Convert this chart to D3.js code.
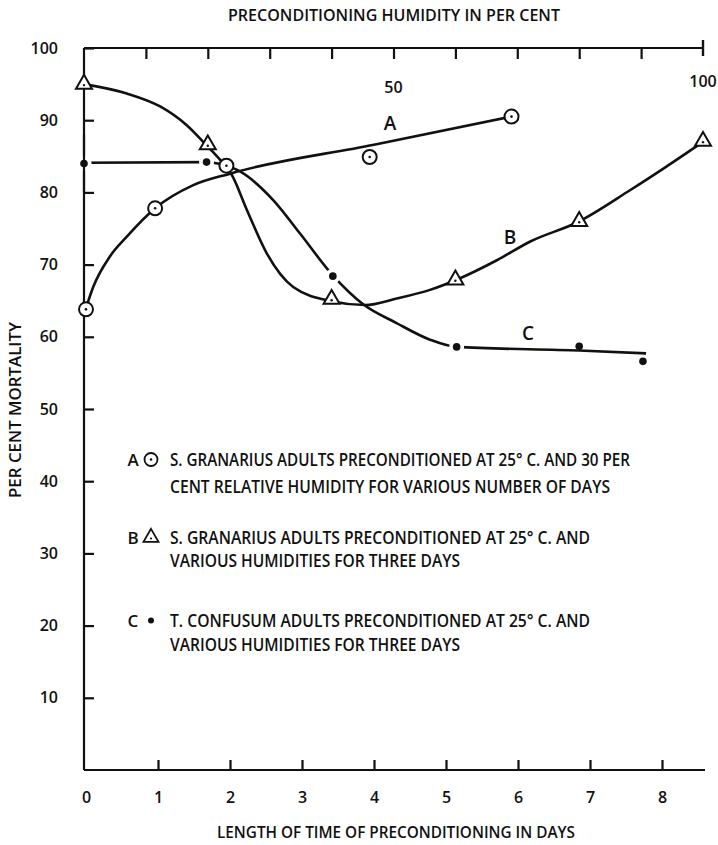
<!DOCTYPE html>
<html>
<head>
<meta charset="utf-8">
<script src="https://cdn.jsdelivr.net/npm/d3@7"></script>
<style>
  body { margin: 0; background: #fff; }
  svg text { font-family: "Open Sans", "DejaVu Sans", sans-serif; fill: #111; font-weight: 600; }
</style>
</head>
<body>
<svg id="chart" width="718" height="845"></svg>
<script>
// ---- tick values ----
const dayTicks = [0, 1, 2, 3, 4, 5, 6, 7, 8];
const humidityTicks = [10, 20, 30, 40, 50, 60, 70, 80, 90];
const humidityLabels = [50, 100];
const mortalityTicks = [10, 20, 30, 40, 50, 60, 70, 80, 90, 100];

// ---- A: S. granarius, 30 % RH, various number of days (x = days) ----
const aDays = [0, 0.96, 1.95, 3.94, 5.91];
const aMortality = [63.8, 77.8, 83.7, 84.9, 90.5];
const aCurveDays = [0, 0.1, 0.33, 0.57, 0.96, 1.49, 2.0, 4.0, 5.91];
const aCurveMortality = [64.0, 66.9, 71.1, 73.9, 77.8, 81.0, 82.6, 86.6, 90.5];

// ---- B: S. granarius, various humidities, three days (x = humidity) ----
const bHumidity = [0, 20, 40, 60, 80, 100];
const bMortality = [95.0, 86.6, 65.2, 67.9, 76.0, 87.1];
const bCurveHumidity = [0, 6.9, 12.3, 16.6, 19.7, 22.0, 23.9, 26.3, 29.5, 33.8, 40.2, 45.4, 50.5, 55.9, 60.2, 66.7, 72.1, 79.8, 88.2, 93.6, 100];
const bCurveMortality = [95.0, 93.7, 91.9, 89.3, 86.6, 84.5, 82.4, 77.6, 71.6, 66.9, 64.9, 64.4, 65.3, 66.5, 67.9, 70.6, 73.2, 75.9, 80.3, 83.3, 87.0];

// ---- C: T. confusum, various humidities, three days (x = humidity) ----
const cHumidity = [0, 19.8, 40.2, 60.2, 80, 90.3];
const cMortality = [84.0, 84.2, 68.4, 58.6, 58.7, 56.6];
const cCurveHumidity = [0, 19.8, 21.6, 25.2, 30.6, 34.9, 40.3, 45.1, 50.5, 55.9, 60.2, 80, 90.8];
const cCurveMortality = [84.1, 84.2, 84.0, 82.9, 78.9, 74.3, 68.4, 64.5, 61.9, 59.6, 58.6, 58.1, 57.7];

// ---- legend text ----
const legendKeys = ["A", "B", "C"];
const legendLines = [
  ["S. GRANARIUS ADULTS PRECONDITIONED AT 25° C. AND 30 PER", "CENT RELATIVE HUMIDITY FOR VARIOUS NUMBER OF DAYS"],
  ["S. GRANARIUS ADULTS PRECONDITIONED AT 25° C. AND", "VARIOUS HUMIDITIES FOR THREE DAYS"],
  ["T. CONFUSUM ADULTS PRECONDITIONED AT 25° C. AND", "VARIOUS HUMIDITIES FOR THREE DAYS"]
];

const svg = d3.select("#chart");

// scales
const xDays = d3.scaleLinear().domain([0, 8]).range([86, 662]);
const xHum = d3.scaleLinear().domain([0, 100]).range([84, 703]);
const y = d3.scaleLinear().domain([0, 100]).range([770, 48]);

const ink = "#111";
const lineW = 2.6;

// ---- axes ----
const leftAxis = svg.append("g").attr("transform", `translate(${xHum(0)},0)`)
  .call(d3.axisLeft(y).tickValues(mortalityTicks).tickSizeInner(-10).tickSizeOuter(0).tickPadding(26));
leftAxis.select(".domain").remove();
leftAxis.selectAll("line").attr("stroke", ink).attr("stroke-width", 2.2);
leftAxis.selectAll("text").attr("font-size", 16).attr("fill", ink);

const bottomAxis = svg.append("g").attr("transform", `translate(0,${y(0)})`)
  .call(d3.axisBottom(xDays).tickValues(dayTicks).tickSizeInner(-10).tickSizeOuter(0).tickPadding(22));
bottomAxis.select(".domain").remove();
bottomAxis.selectAll("line").attr("stroke", ink).attr("stroke-width", 2.2);
bottomAxis.selectAll(".tick").filter(d => d === 0).select("line").remove();
bottomAxis.selectAll("text").attr("font-size", 16).attr("fill", ink);

const topAxis = svg.append("g").attr("transform", `translate(0,${y(100)})`)
  .call(d3.axisTop(xHum).tickValues(humidityTicks).tickSizeInner(-11).tickSizeOuter(0).tickFormat(""));
topAxis.select(".domain").remove();
topAxis.selectAll("line").attr("stroke", ink).attr("stroke-width", 2.2);

// frame lines: left, bottom, top
svg.append("line").attr("x1", xHum(0)).attr("x2", xHum(0)).attr("y1", y(100)).attr("y2", y(0))
  .attr("stroke", ink).attr("stroke-width", 2.2);
svg.append("line").attr("x1", xHum(0)).attr("x2", 705).attr("y1", y(0)).attr("y2", y(0))
  .attr("stroke", ink).attr("stroke-width", 2.2);
svg.append("line").attr("x1", xHum(0)).attr("x2", xHum(100)).attr("y1", y(100)).attr("y2", y(100))
  .attr("stroke", ink).attr("stroke-width", 2.2);
// end tick at 100 % humidity, crossing the top line
svg.append("line").attr("x1", xHum(100)).attr("x2", xHum(100)).attr("y1", y(100) - 8).attr("y2", y(100) + 8)
  .attr("stroke", ink).attr("stroke-width", 2.4);

// humidity labels under the top scale
svg.selectAll(".humLabel").data(humidityLabels).join("text")
  .attr("class", "humLabel")
  .attr("x", d => xHum(d))
  .attr("y", d => d === 100 ? 87 : 93)
  .attr("text-anchor", "middle").attr("font-size", 16)
  .text(d => d);

// axis titles
svg.append("text").attr("x", 394).attr("y", 21).attr("text-anchor", "middle")
  .attr("font-size", 16).attr("textLength", 332).attr("lengthAdjust", "spacingAndGlyphs")
  .text("PRECONDITIONING HUMIDITY IN PER CENT");
svg.append("text").attr("x", 396).attr("y", 838).attr("text-anchor", "middle")
  .attr("font-size", 16).attr("textLength", 358).attr("lengthAdjust", "spacingAndGlyphs")
  .text("LENGTH OF TIME OF PRECONDITIONING IN DAYS");
svg.append("text").attr("transform", "translate(21,410) rotate(-90)").attr("text-anchor", "middle")
  .attr("font-size", 16).attr("textLength", 176).attr("lengthAdjust", "spacingAndGlyphs")
  .text("PER CENT MORTALITY");

// ---- curves ----
const curve = d3.curveMonotoneX;
const pairs = (xs, ys) => xs.map((v, i) => [v, ys[i]]);

// C first, so that white halos round its dots open small gaps in its own line
svg.append("path")
  .datum(pairs(cCurveHumidity, cCurveMortality))
  .attr("d", d3.line().x(d => xHum(d[0])).y(d => y(d[1])).curve(curve))
  .attr("fill", "none").attr("stroke", ink).attr("stroke-width", lineW);
svg.selectAll(".cHalo").data(pairs(cHumidity, cMortality).slice(0, 4)).join("circle")
  .attr("class", "cHalo")
  .attr("cx", d => xHum(d[0])).attr("cy", d => y(d[1])).attr("r", 7.5).attr("fill", "#fff");
// redraw left frame across the halo at 0 %
svg.append("line").attr("x1", xHum(0)).attr("x2", xHum(0)).attr("y1", y(88)).attr("y2", y(80))
  .attr("stroke", ink).attr("stroke-width", 2.2);

svg.append("path")
  .datum(pairs(aCurveDays, aCurveMortality))
  .attr("d", d3.line().x(d => xDays(d[0])).y(d => y(d[1])).curve(curve))
  .attr("fill", "none").attr("stroke", ink).attr("stroke-width", lineW);

svg.append("path")
  .datum(pairs(bCurveHumidity, bCurveMortality))
  .attr("d", d3.line().x(d => xHum(d[0])).y(d => y(d[1])).curve(curve))
  .attr("fill", "none").attr("stroke", ink).attr("stroke-width", lineW);

// ---- markers ----
function circleMark(g, cx, cy) {
  g.append("circle").attr("cx", cx).attr("cy", cy).attr("r", 7)
    .attr("fill", "#fff").attr("stroke", ink).attr("stroke-width", 2);
  g.append("circle").attr("cx", cx).attr("cy", cy).attr("r", 1.3).attr("fill", ink);
}
function triangleMark(g, cx, cy) {
  const s = 16, h = s * Math.sqrt(3) / 2;
  g.append("path")
    .attr("d", `M${cx},${cy - h * 2 / 3}L${cx + s / 2},${cy + h / 3}L${cx - s / 2},${cy + h / 3}Z`)
    .attr("fill", "#fff").attr("stroke", ink).attr("stroke-width", 2).attr("stroke-linejoin", "miter");
  g.append("circle").attr("cx", cx).attr("cy", cy + 1).attr("r", 1.2).attr("fill", ink);
}
function dotMark(g, cx, cy) {
  g.append("circle").attr("cx", cx).attr("cy", cy).attr("r", 3.8).attr("fill", ink);
}

const marks = svg.append("g");
pairs(aDays, aMortality).forEach(d => circleMark(marks, xDays(d[0]), y(d[1])));
pairs(bHumidity, bMortality).forEach(d => triangleMark(marks, xHum(d[0]), y(d[1])));
pairs(cHumidity, cMortality).forEach(d => dotMark(marks, xHum(d[0]), y(d[1])));

// curve letters
const curveLetters = [["A", 390, 130], ["B", 510, 244], ["C", 528, 340]];
svg.selectAll(".curveLetter").data(curveLetters).join("text")
  .attr("class", "curveLetter")
  .attr("x", d => d[1]).attr("y", d => d[2])
  .attr("text-anchor", "middle").attr("font-size", 19).attr("font-weight", 500)
  .text(d => d[0]);

// ---- legend ----
const legendRows = [[466, 493], [544, 567], [627, 651]];
const legendWidths = [[460, 440], [420, 290], [420, 290]];
legendKeys.forEach((k, i) => {
  const [y1, y2] = legendRows[i];
  svg.append("text").attr("x", 133).attr("y", y1).attr("text-anchor", "middle")
    .attr("font-size", 17).text(k);
  const cy = y1 - 6.5;
  if (i === 0) {
    svg.append("circle").attr("cx", 151).attr("cy", cy).attr("r", 6.5)
      .attr("fill", "none").attr("stroke", ink).attr("stroke-width", 1.8);
    svg.append("circle").attr("cx", 151).attr("cy", cy).attr("r", 1.3).attr("fill", ink);
  } else if (i === 1) {
    const s = 15, h = s * Math.sqrt(3) / 2;
    svg.append("path")
      .attr("d", `M151,${cy - h * 2 / 3}L${151 + s / 2},${cy + h / 3}L${151 - s / 2},${cy + h / 3}Z`)
      .attr("fill", "none").attr("stroke", ink).attr("stroke-width", 1.8);
    svg.append("circle").attr("cx", 151).attr("cy", cy + 1).attr("r", 1.1).attr("fill", ink);
  } else {
    svg.append("circle").attr("cx", 151).attr("cy", cy).attr("r", 3).attr("fill", ink);
  }
  legendLines[i].forEach((t, j) => {
    svg.append("text").attr("x", 170).attr("y", j === 0 ? y1 : y2)
      .attr("font-size", 18)
      .attr("textLength", legendWidths[i][j]).attr("lengthAdjust", "spacingAndGlyphs")
      .text(t);
  });
});
</script>
</body>
</html>
